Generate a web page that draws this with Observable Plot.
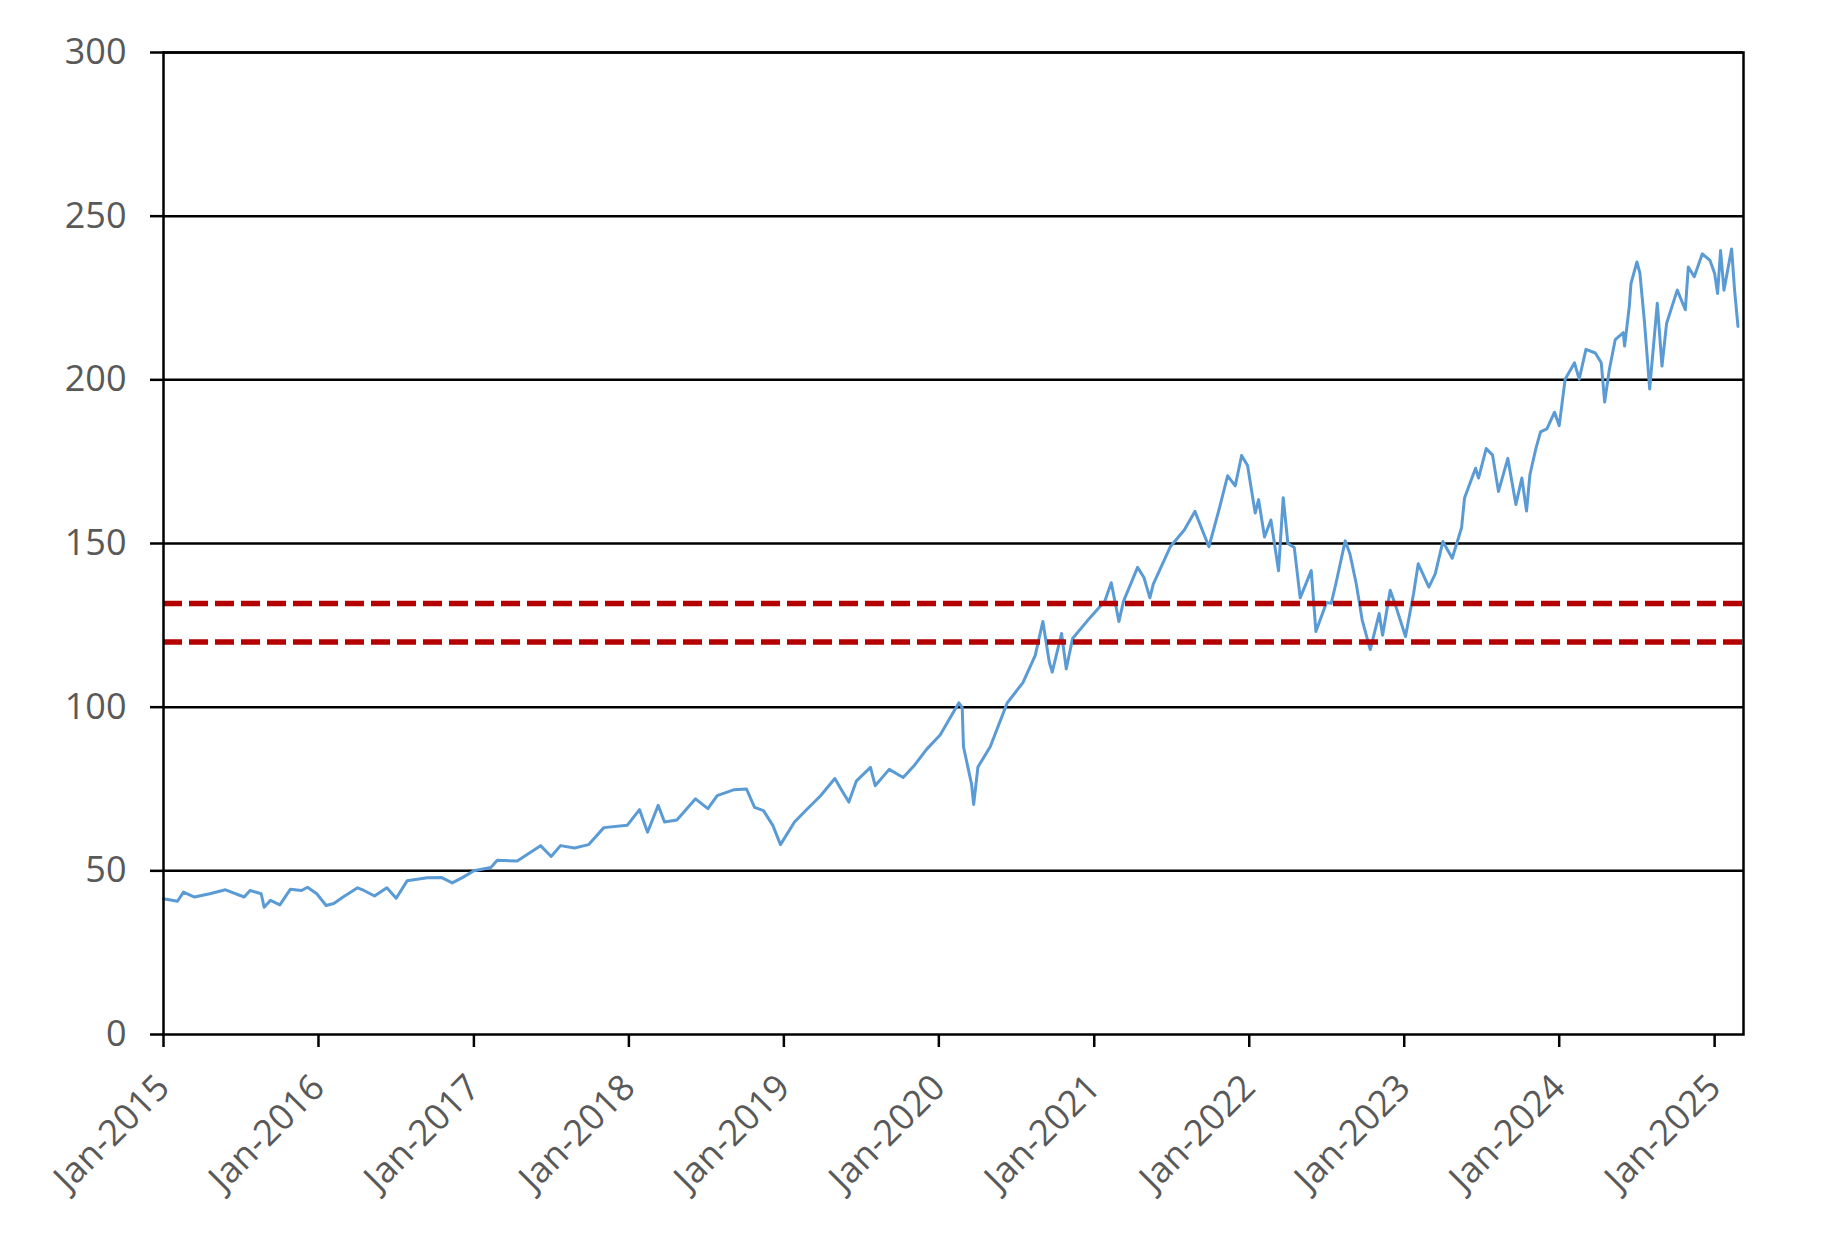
<!DOCTYPE html>
<html><head><meta charset="utf-8">
<script src="https://cdn.jsdelivr.net/npm/d3@7"></script>
<script src="https://cdn.jsdelivr.net/npm/@observablehq/plot@0.6"></script>
<style>body{margin:0;background:#fff}</style>
</head><body><div id="chart"></div>
<script>
const dates = [
"2015-01-01","2015-02-03","2015-02-17","2015-03-15","2015-04-20","2015-05-27","2015-07-10","2015-07-24","2015-08-19","2015-08-26",
"2015-09-10","2015-10-02","2015-10-27","2015-11-22","2015-12-06","2015-12-28","2016-01-19","2016-02-06","2016-02-28","2016-04-02",
"2016-04-17","2016-05-12","2016-06-10","2016-07-02","2016-07-28","2016-09-13","2016-10-16","2016-11-11","2016-12-06","2017-01-01",
"2017-02-10","2017-02-25","2017-04-13","2017-06-07","2017-07-02","2017-07-24","2017-08-26","2017-09-28","2017-11-03","2017-12-28",
"2018-01-26","2018-02-14","2018-03-11","2018-03-26","2018-04-24","2018-06-07","2018-07-06","2018-07-28","2018-09-06","2018-10-05",
"2018-10-24","2018-11-14","2018-12-06","2018-12-24","2019-01-26","2019-02-25","2019-03-29","2019-05-01","2019-05-20","2019-06-03",
"2019-06-21","2019-07-24","2019-08-04","2019-09-06","2019-10-09","2019-11-03","2019-12-03","2020-01-04","2020-01-30","2020-02-17",
"2020-02-25","2020-02-28","2020-03-18","2020-03-23","2020-04-02","2020-05-01","2020-06-10","2020-07-17","2020-08-15","2020-09-02",
"2020-09-17","2020-09-24","2020-10-16","2020-10-27","2020-11-11","2020-12-21","2021-01-26","2021-02-10","2021-02-28","2021-03-11",
"2021-04-13","2021-04-28","2021-05-12","2021-05-20","2021-06-29","2021-08-01","2021-08-26","2021-09-28","2021-10-24","2021-11-11",
"2021-11-29","2021-12-14","2021-12-28","2022-01-15","2022-01-23","2022-02-06","2022-02-21","2022-03-11","2022-03-22","2022-04-02",
"2022-04-17","2022-05-01","2022-05-27","2022-06-07","2022-07-02","2022-07-13","2022-07-24","2022-08-15","2022-08-26","2022-09-10",
"2022-09-24","2022-10-13","2022-11-03","2022-11-11","2022-11-29","2022-12-10","2023-01-04","2023-01-23","2023-02-03","2023-02-28",
"2023-03-15","2023-04-02","2023-04-24","2023-05-16","2023-05-23","2023-06-18","2023-06-25","2023-07-13","2023-07-28","2023-08-11",
"2023-09-02","2023-09-21","2023-10-05","2023-10-16","2023-10-24","2023-11-07","2023-11-18","2023-12-03","2023-12-21","2024-01-01",
"2024-01-15","2024-02-06","2024-02-17","2024-03-04","2024-03-26","2024-04-09","2024-04-17","2024-04-28","2024-05-12","2024-05-31",
"2024-06-03","2024-06-14","2024-06-18","2024-07-02","2024-07-09","2024-07-20","2024-08-01","2024-08-19","2024-08-30","2024-09-10",
"2024-10-05","2024-10-24","2024-10-31","2024-11-14","2024-12-03","2024-12-21","2025-01-01","2025-01-08","2025-01-15","2025-01-23",
"2025-02-10","2025-02-17","2025-02-25"
];
const values = [
41.5,40.7,43.5,42,43,44.2,42,44,43,38.9,
41,39.6,44.4,44,45,43,39.4,40,42,44.8,
44,42.3,44.8,41.6,47,47.9,48,46.3,48,50,
51,53.2,53,57.7,54.4,57.7,57,58,63.2,63.9,
68.7,61.8,70,64.9,65.5,72,69,73,74.8,75,
69.4,68.4,63.9,58,64.9,68.9,73,78.2,74,71,
77.5,81.6,76,81,78.5,82,87.1,91.5,97.3,101.3,
99.9,87.9,76.5,70.3,81.7,87.9,101.3,107.5,115.8,126.2,
113.8,110.7,122.5,111.7,121,127.2,132.4,138,126.2,132.4,
142.7,139.6,133.4,137.6,149,154.1,159.8,149,161.4,170.7,
167.6,176.9,173.8,159.3,163.4,152,157.2,141.7,164,150,
148.8,133.4,141.7,123.1,132,131.7,137.7,150.8,146.9,137.7,
126.6,117.6,128.6,122,135.7,131.7,121.6,134.7,143.8,136.7,
140.7,150.6,145.5,154.8,163.9,173,170,179,177,165.9,
176,161.9,170,159.9,171,179,184.1,185,190.1,186,
200.2,205.2,200.2,209.3,208.2,205.2,193.2,203.1,212.3,214.4,
210.3,222.4,229.4,236,232.6,217.3,197.2,223.4,204.2,217.3,
227.4,221.4,234.5,231.5,238.5,236.5,232.5,226.4,239.5,227.4,
240,227.4,216.3
];
const bandLevels = [131.7, 119.9];
const yTicks = [0, 50, 100, 150, 200, 250, 300];
const xTickYears = [2015, 2016, 2017, 2018, 2019, 2020, 2021, 2022, 2023, 2024, 2025];

const data = dates.map((d, i) => ({date: new Date(d), value: values[i]}));
const xTicks = xTickYears.map(y => new Date(Date.UTC(y, 0, 1)));
const fmt = d3.utcFormat("%b-%Y");

const chart = Plot.plot({
  width: 1830, height: 1235,
  marginLeft: 163, marginRight: 87, marginTop: 52, marginBottom: 201,
  style: {fontFamily: "Open Sans", fontSize: "36px", color: "#595959", background: "#fff"},
  x: {type: "utc", domain: [new Date("2015-01-01"), new Date("2025-03-10")]},
  y: {domain: [0, 300]},
  marks: [
    Plot.gridY(yTicks.slice(1), {stroke: "#000", strokeOpacity: 1, strokeWidth: 2.5}),
    Plot.lineY(data, {x: "date", y: "value", stroke: "#5B9BD5", strokeWidth: 3}),
    Plot.ruleY(bandLevels, {stroke: "#B50000", strokeWidth: 5.5, strokeDasharray: "19,7"}),
    Plot.axisY(yTicks, {tickSize: 13, tickPadding: 24, stroke: "#000", strokeWidth: 2.5, fill: "#595959", label: null}),
    Plot.axisX(xTicks, {tickFormat: fmt, tickRotate: -45, tickSize: 13, tickPadding: 34, stroke: "#000", strokeWidth: 2.5, fill: "#595959", label: null}),
    Plot.frame({stroke: "#000", strokeWidth: 2.5})
  ]
});
document.getElementById("chart").appendChild(chart);
</script>
</body></html>
